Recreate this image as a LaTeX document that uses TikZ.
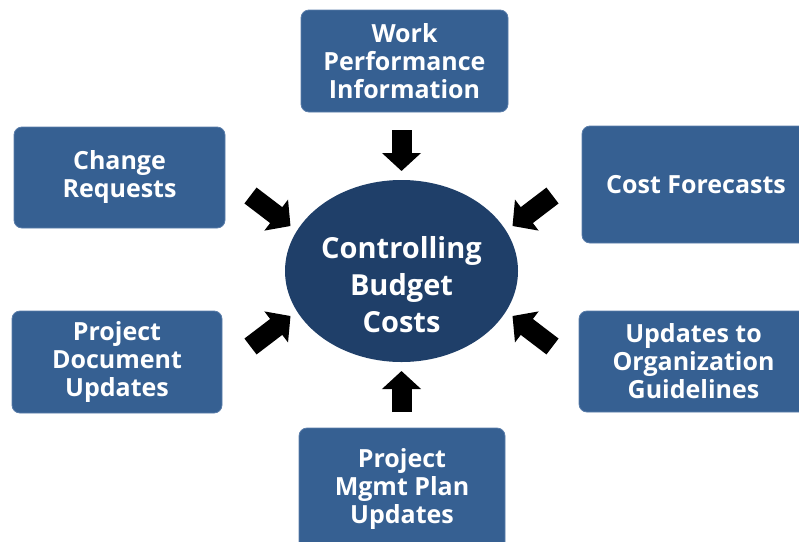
\documentclass[tikz,border=0pt]{standalone}
\usepackage{fontspec}
\setmainfont{Open Sans}
\usepackage{xcolor}
\definecolor{colorBox}{RGB}{54,96,146}
\definecolor{colorBoxEdge}{RGB}{90,125,170}
\definecolor{colorCenter}{RGB}{31,63,105}
\usepackage{tikz}
\usetikzlibrary{arrows.meta, positioning, shapes.geometric}
\tikzset{
  inbox/.style={draw=colorBoxEdge, line width=0.8pt, fill=colorBox, rounded corners=8pt, text=white, align=center, inner sep=0pt, font=\fontsize{25}{28}\selectfont\bfseries},
  blockarrow/.style={line width=20pt, black, -{Triangle[width=38pt, length=18pt]}}
}

\begin{document}
\begin{tikzpicture}[x=1pt, y=-1pt]
\clip (0,0) rectangle (799,541);
\node[ellipse, fill=colorCenter, minimum width=233pt, minimum height=182pt, inner sep=0pt] (budget) at (401.5,271) {};
\node[text=white, align=center, font=\fontsize{29}{37}\selectfont\bfseries] (budgettext) at (401.5,285) {Controlling\\Budget\\Costs};
\node[inbox, minimum width=207pt, minimum height=102pt] (wpi) at (404.5,61) {Work\\Performance\\Information};
\node[inbox, minimum width=211pt, minimum height=101pt] (chg) at (119.5,177.5) {Change\\Requests};
\node[inbox, minimum width=228pt, minimum height=117pt] (fcst) at (696,184.5) {Cost Forecasts};
\node[inbox, minimum width=210pt, minimum height=102pt] (pdu) at (117,362) {Project\\Document\\Updates};
\node[inbox, minimum width=229pt, minimum height=101pt] (org) at (693.5,361.5) {Updates to\\Organization\\Guidelines};
\node[inbox, minimum width=206pt, minimum height=122pt] (plan) at (402,489) {Project\\Mgmt Plan\\Updates};
% arrows into the ellipse
\coordinate (t1) at (401.5,130); \coordinate (h1) at (401.5,171);
\coordinate (t2) at (250.5,195.5); \coordinate (h2) at (290.5,226);
\coordinate (t3) at (552.5,195.5); \coordinate (h3) at (512.5,226);
\coordinate (t4) at (250.5,346.5); \coordinate (h4) at (290.5,316);
\coordinate (t5) at (552.5,346.5); \coordinate (h5) at (512.5,316);
\coordinate (t6) at (401.5,412); \coordinate (h6) at (401.5,371);
\foreach \i in {1,...,6}
  \draw[blockarrow] (t\i) -- (h\i);
\end{tikzpicture}
\end{document}
